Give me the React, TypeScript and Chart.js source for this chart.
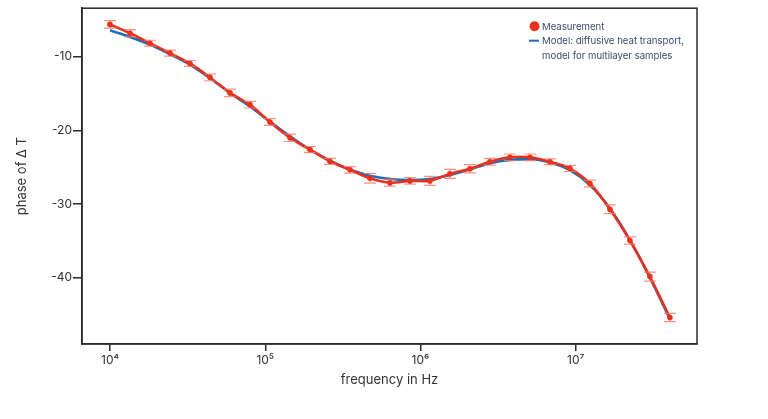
import React, { useEffect, useRef } from "react";
import { Chart, registerables } from "chart.js";

Chart.register(...registerables);

const frequencies: number[] = [
  10000, 13450, 18090, 24340, 32740, 44060, 59260, 79710, 107200, 144300,
  194100, 261100, 351200, 472500, 635600, 855000, 1150000, 1547000, 2081000,
  2800000, 3767000, 5068000, 6818000, 9172000, 12340000, 16600000, 22330000,
  30040000, 40410000,
];

const measuredPhase: number[] = [
  -5.6, -6.8, -8.15, -9.5, -10.9, -12.8, -14.9, -16.5, -18.85, -21.0,
  -22.6, -24.2, -25.35, -26.5, -27.1, -26.85, -26.85, -25.9, -25.2,
  -24.25, -23.65, -23.65, -24.25, -25.15, -27.2, -30.7, -34.95, -39.85, -45.4,
];

const measuredError: number[] = [
  0.5, 0.5, 0.4, 0.4, 0.4, 0.45, 0.5, 0.45, 0.45, 0.5,
  0.4, 0.4, 0.45, 0.65, 0.45, 0.45, 0.6, 0.6, 0.55,
  0.45, 0.45, 0.45, 0.4, 0.4, 0.45, 0.6, 0.5, 0.6, 0.55,
];

const modelPhase: number[] = [
  -6.4, -7.3, -8.35, -9.65, -11.05, -12.9, -14.9, -16.75, -18.8, -20.8,
  -22.6, -24.1, -25.3, -26.15, -26.6, -26.75, -26.6, -26.05, -25.3,
  -24.45, -24.0, -23.9, -24.35, -25.4, -27.4, -30.6, -34.85, -40.0, -45.6,
];

const yTickValues: number[] = [-40, -30, -20, -10];
const xTickValues: number[] = [1e4, 1e5, 1e6, 1e7];

const seriesLabels: string[] = [
  "Measurement",
  "Model: diffusive heat transport,",
  "model for multilayer samples",
];

const RED = "#e8321e";
const BLUE = "#1f70b6";
const ERR = "rgba(242, 120, 110, 0.8)";
const AXIS = "#2b2b2b";
const TEXT = "#333333";
const LEGEND_TEXT = "#3d4b6c";
const FONT = "Inter, 'Noto Sans', sans-serif";

const sup: Record<string, string> = {
  "0": "⁰", "1": "¹", "2": "²", "3": "³", "4": "⁴",
  "5": "⁵", "6": "⁶", "7": "⁷", "8": "⁸", "9": "⁹",
};

const errorBarPlugin = {
  id: "errorBars",
  afterDatasetsDraw(chart: any) {
    const { ctx, scales } = chart;
    const xs = scales.x;
    const ys = scales.y;
    ctx.save();
    ctx.strokeStyle = ERR;
    ctx.lineWidth = 1.2;
    for (let i = 0; i < frequencies.length; i++) {
      const px = xs.getPixelForValue(frequencies[i]);
      const yTop = ys.getPixelForValue(measuredPhase[i] + measuredError[i]);
      const yBot = ys.getPixelForValue(measuredPhase[i] - measuredError[i]);
      const cap = 6;
      ctx.beginPath();
      ctx.moveTo(px, yTop);
      ctx.lineTo(px, yBot);
      ctx.moveTo(px - cap, yTop);
      ctx.lineTo(px + cap, yTop);
      ctx.moveTo(px - cap, yBot);
      ctx.lineTo(px + cap, yBot);
      ctx.stroke();
    }
    ctx.fillStyle = RED;
    for (let i = 0; i < frequencies.length; i++) {
      const px = xs.getPixelForValue(frequencies[i]);
      const py = ys.getPixelForValue(measuredPhase[i]);
      ctx.beginPath();
      ctx.arc(px, py, 2.8, 0, Math.PI * 2);
      ctx.fill();
    }
    ctx.restore();
  },
};

const frameAndLegendPlugin = {
  id: "frameLegend",
  afterDraw(chart: any) {
    const { ctx, chartArea } = chart;
    ctx.save();
    ctx.strokeStyle = AXIS;
    ctx.lineWidth = 1.5;
    ctx.strokeRect(chartArea.left, chartArea.top, chartArea.right - chartArea.left, chartArea.bottom - chartArea.top);

    const lx = chartArea.right - 168;
    const ly = chartArea.top + 18;
    ctx.fillStyle = RED;
    ctx.beginPath();
    ctx.arc(lx + 5.5, ly, 5, 0, Math.PI * 2);
    ctx.fill();
    ctx.strokeStyle = BLUE;
    ctx.lineWidth = 2;
    ctx.beginPath();
    ctx.moveTo(lx, ly + 14.5);
    ctx.lineTo(lx + 10, ly + 14.5);
    ctx.stroke();

    ctx.fillStyle = LEGEND_TEXT;
    ctx.font = `9.6px ${FONT}`;
    ctx.textBaseline = "middle";
    ctx.textAlign = "left";
    ctx.fillText(seriesLabels[0], lx + 13, ly + 0.5);
    ctx.fillText(seriesLabels[1], lx + 13, ly + 15);
    ctx.fillText(seriesLabels[2], lx + 13, ly + 29.5);
    ctx.restore();
  },
};

export default function App() {
  const canvasRef = useRef<HTMLCanvasElement | null>(null);

  useEffect(() => {
    if (!canvasRef.current) return;
    const chart = new Chart(canvasRef.current, {
      type: "line",
      data: {
        datasets: [
          {
            label: seriesLabels[0],
            data: frequencies.map((f, i) => ({ x: f, y: measuredPhase[i] })),
            borderColor: RED,
            backgroundColor: RED,
            borderWidth: 2.6,
            pointRadius: 0,
            tension: 0.25,
            order: 1,
          },
          {
            label: seriesLabels[1] + " " + seriesLabels[2],
            data: frequencies.map((f, i) => ({ x: f, y: modelPhase[i] })),
            borderColor: BLUE,
            backgroundColor: BLUE,
            borderWidth: 2.6,
            pointRadius: 0,
            tension: 0.4,
            cubicInterpolationMode: "monotone",
            order: 2,
          },
        ],
      },
      options: {
        animation: false,
        responsive: true,
        maintainAspectRatio: false,
        layout: { padding: { top: 8, right: 71, left: 0, bottom: 0 } },
        plugins: {
          legend: { display: false },
          tooltip: { enabled: false },
        },
        scales: {
          x: {
            type: "logarithmic",
            min: 6600,
            max: 6.04e7,
            afterBuildTicks(scale: any) {
              scale.ticks = xTickValues.map((v) => ({ value: v }));
            },
            afterFit(scale: any) {
              scale.height = 75;
            },
            ticks: {
              color: TEXT,
              font: { family: FONT, size: 12 },
              padding: 2,
              maxRotation: 0,
              autoSkip: false,
              callback(value: any) {
                const e = Math.round(Math.log10(Number(value)));
                return "10" + String(e).split("").map((c) => sup[c] || c).join("");
              },
            },
            grid: {
              display: true,
              drawOnChartArea: false,
              drawTicks: true,
              tickLength: 7,
              color: AXIS,
              lineWidth: 1.5,
            },
            border: { display: true, color: AXIS, width: 1.5 },
            title: {
              display: true,
              text: "frequency in Hz",
              color: TEXT,
              font: { family: FONT, size: 13 },
              padding: { top: 0, bottom: 31 },
            },
          },
          y: {
            type: "linear",
            min: -49,
            max: -3.4,
            afterBuildTicks(scale: any) {
              scale.ticks = yTickValues.map((v) => ({ value: v }));
            },
            afterFit(scale: any) {
              scale.width = 82;
            },
            ticks: {
              color: TEXT,
              font: { family: FONT, size: 12 },
              padding: 1,
            },
            grid: {
              display: true,
              drawOnChartArea: false,
              drawTicks: true,
              tickLength: 9,
              color: AXIS,
              lineWidth: 1.5,
            },
            border: { display: true, color: AXIS, width: 1.5 },
            title: {
              display: true,
              text: "phase of Δ T",
              color: TEXT,
              font: { family: FONT, size: 13 },
              padding: { top: 14, bottom: 0 },
            },
          },
        },
      },
      plugins: [errorBarPlugin, frameAndLegendPlugin],
    } as any);
    return () => chart.destroy();
  }, []);

  return (
    <div style={{ position: "fixed", left: 0, top: 0, width: 768, height: 419, background: "#fff" }}>
      <canvas ref={canvasRef} />
    </div>
  );
}
